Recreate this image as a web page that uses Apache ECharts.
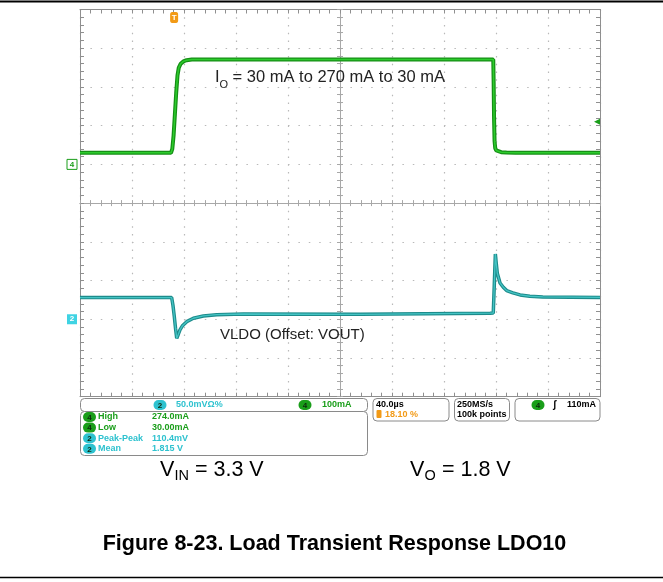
<!DOCTYPE html>
<html>
<head>
    <meta http-equiv="Content-Type" content="text/html; charset=utf-8" />
    <style type="text/css">
        body, html {width: 100%;height: 100%;margin:0;background:#fff;}
        #chart{width:663px;height:582px;}
    </style>
    <script src="https://cdn.jsdelivr.net/npm/echarts@6/dist/echarts.min.js"></script>
    <title>Load Transient Response LDO10</title>
</head>
<body>
<div id="chart"></div>
<script type="text/javascript">
    // time in us from left edge of screen (40 us/div, 10 div)
    var curTime = [0, 70.0, 71.0, 72.0, 73.0, 74.0, 75.0, 76.0, 77.5, 79.5, 82.0, 86.0, 150, 250, 317.9, 318.2, 318.5, 318.9, 319.4, 320.2, 321.5, 324, 328, 335, 350, 400];
    var curMa   = [30, 30, 40, 75, 130, 185, 230, 250, 260, 266, 269, 271, 271, 271, 271, 210, 120, 60, 42, 36, 33, 31.5, 30.5, 30, 30, 30];

    var vTime = [0, 70.5, 71.5, 72.5, 73.5, 74.4, 75.5, 76.9, 79, 82.1, 87.2, 94.9, 105.1, 125.6, 215.4, 315.4, 317.9, 318.7, 319.5, 320.2, 321, 323.1, 325.6, 328.2, 333, 338.5, 346, 356, 400];
    var vMv   = [28, 28, 18, 4, -12, -24.5, -20, -13.8, -8, -3.1, 1.3, 4.3, 5.9, 6.8, 6.4, 7.9, 8, 45, 84.3, 72, 59.4, 46.9, 41.4, 37.0, 34.1, 31.4, 29.7, 28.8, 28.2];

    var trigTime = 72.4;   // 18.10 % of screen
    var trigLevel = 110;   // mA

    var measLabels = ['High', 'Low', 'Peak-Peak', 'Mean'];
    var measValues = ['274.0mA', '30.00mA', '110.4mV', '1.815 V'];
    var measChan   = ['4', '4', '2', '2'];

    function zip(a, b) {
        var out = [];
        for (var i = 0; i < a.length; i++) out.push([a[i], b[i]]);
        return out;
    }

    var border = '#8f8f8f', dots = '#b9b9b9', centerCol = '#a8a8a8';
    var green = '#1a9e1a', cyan = '#2ec2cf', orange = '#f29a16';
    var sans = '"Liberation Sans", Arial, sans-serif';

    function edgeAxis(o) {
        var ax = {
            type: 'value', min: o.min, max: o.max, interval: o.interval, position: o.position,
            axisLine: {onZero: false, lineStyle: {color: border, width: 1}},
            axisTick: {show: true, inside: true, length: 4, lineStyle: {color: border}},
            minorTick: {show: true, splitNumber: 5, length: 4, lineStyle: {color: border}},
            axisLabel: {show: false},
            splitLine: {show: false}
        };
        if (o.dash) ax.splitLine = {show: true, lineStyle: {color: dots, width: 1.2, type: o.dash}};
        return ax;
    }
    function centerAxis(o) {
        return {
            type: 'value', min: o.min, max: o.max, interval: o.interval, position: o.position,
            axisLine: {onZero: true, onZeroAxisIndex: o.zeroIdx, lineStyle: {color: centerCol}},
            axisTick: {show: true, inside: false, length: 3, lineStyle: {color: centerCol}},
            minorTick: {show: true, splitNumber: 5, length: 3, lineStyle: {color: centerCol}},
            axisLabel: {show: false},
            splitLine: {show: false}
        };
    }

    // status bar helpers
    var g = [];
    function box(x, y, w, h) {
        g.push({type: 'rect', shape: {x: x, y: y, width: w, height: h, r: 4},
            style: {fill: '#fff', stroke: '#8a8a8a', lineWidth: 1}});
    }
    function txt(s, x, y, font, color, align) {
        g.push({type: 'text', style: {text: s, x: x, y: y, font: font, fill: color || '#000',
            textAlign: align || 'left', textVerticalAlign: 'middle'}, z: 10});
    }
    function badge(n, x, y, color) {
        g.push({type: 'rect', shape: {x: x - 6.5, y: y - 5, width: 13, height: 10, r: 5},
            style: {fill: color}, z: 10});
        txt(n, x, y + 0.5, 'bold 8px ' + sans, '#0d2a0d', 'center');
    }

    var scopeFont = 'bold 9px ' + sans;
    g.push({type: 'line', shape: {x1: 0, y1: 1.5, x2: 663, y2: 1.5}, style: {stroke: '#000', lineWidth: 2}});
    g.push({type: 'line', shape: {x1: 0, y1: 577.5, x2: 663, y2: 577.5}, style: {stroke: '#000', lineWidth: 1.5}});

    box(80.5, 398.5, 287, 13);
    badge('2', 160, 405, cyan);
    txt('50.0mVΩ%', 176, 405, scopeFont, cyan);
    badge('4', 305, 405, green);
    txt('100mA', 322, 405, scopeFont, green);

    box(80.5, 411.5, 287, 44);
    for (var i = 0; i < measLabels.length; i++) {
        var yy = 417 + i * 10.6;
        var c = measChan[i] === '4' ? green : cyan;
        badge(measChan[i], 89.5, yy, c);
        txt(measLabels[i], 98, yy, scopeFont, c);
        txt(measValues[i], 152, yy, scopeFont, c);
    }

    box(373, 398.5, 76, 22.5);
    txt('40.0µs', 376, 404.5, scopeFont, '#000');
    g.push({type: 'rect', shape: {x: 376.5, y: 410, width: 5, height: 8, r: 1}, style: {fill: orange}});
    txt('18.10 %', 385, 414.5, scopeFont, orange);

    box(454.5, 398.5, 55, 22.5);
    txt('250MS/s', 457, 404.5, scopeFont, '#000');
    txt('100k points', 457, 414.5, scopeFont, '#000');

    box(515, 398.5, 85, 22.5);
    badge('4', 538, 405, green);
    txt('ʃ', 553, 405, 'bold 10px ' + sans, '#000');
    txt('110mA', 567, 405, scopeFont, '#000');

    // annotations
    txt('I', 215, 77.5, '16.5px ' + sans, '#222');
    txt('O', 219.5, 84.5, '11px ' + sans, '#222');
    txt(' = 30 mA to 270 mA to 30 mA', 228, 77.5, '16.5px ' + sans, '#222');
    txt('VLDO (Offset: VOUT)', 220, 334.7, '15px ' + sans, '#222');

    txt('V', 160, 470, '21.5px ' + sans, '#000');
    txt('IN', 174.5, 476, '14.5px ' + sans, '#000');
    txt(' = 3.3 V', 189, 470, '21.5px ' + sans, '#000');
    txt('V', 410, 470, '21.5px ' + sans, '#000');
    txt('O', 424.5, 476, '14.5px ' + sans, '#000');
    txt(' = 1.8 V', 436, 470, '21.5px ' + sans, '#000');

    txt('Figure 8-23. Load Transient Response LDO10', 334.5, 544, 'bold 21.5px ' + sans, '#000', 'center');

    var chart = echarts.init(document.getElementById('chart'));
    var option = {
        animation: false,
        backgroundColor: '#fff',
        grid: {left: 80, top: 9.5, width: 520, height: 387.2},
        xAxis: [
            edgeAxis({min: 0, max: 400, interval: 40, position: 'bottom', dash: [1.5, 6.24]}),
            edgeAxis({min: 0, max: 400, interval: 40, position: 'top'}),
            centerAxis({min: 0, max: 400, interval: 40, position: 'bottom', zeroIdx: 2}),
            centerAxis({min: 0, max: 400, interval: 40, position: 'top', zeroIdx: 2}),
            {type: 'value', min: -200, max: 200, show: false}
        ],
        yAxis: [
            edgeAxis({min: -600, max: 400, interval: 100, position: 'left', dash: [1.5, 8.9]}),
            edgeAxis({min: -100, max: 400, interval: 50, position: 'right'}),
            {type: 'value', min: -5, max: 5, show: false},
            centerAxis({min: -5, max: 5, interval: 1, position: 'left', zeroIdx: 4}),
            centerAxis({min: -5, max: 5, interval: 1, position: 'right', zeroIdx: 4})
        ],
        series: [
            {
                name: 'IO', type: 'line', xAxisIndex: 0, yAxisIndex: 0, showSymbol: false, z: 5,
                data: zip(curTime, curMa),
                lineStyle: {color: '#168f16', width: 4},
                markPoint: {
                    symbol: 'rect', animation: false,
                    data: [
                        {coord: [0, 0], symbol: 'rect', symbolSize: [10, 10], symbolOffset: [-8, 0],
                            itemStyle: {color: '#fff', borderColor: green, borderWidth: 1},
                            label: {show: true, formatter: '4', color: green, fontSize: 8, fontWeight: 'bold'}},
                        {coord: [trigTime, 400], symbol: 'roundRect', symbolSize: [8, 11], symbolOffset: [0, 8],
                            itemStyle: {color: orange},
                            label: {show: true, formatter: 'T', color: '#fff', fontSize: 8, fontWeight: 'bold'}},
                        {coord: [400, trigLevel], symbol: 'triangle', symbolSize: [6, 6], symbolRotate: 90, symbolOffset: [-3, 0],
                            itemStyle: {color: green}, label: {show: false}}
                    ]
                }
            },
            {
                name: 'IO hi', type: 'line', xAxisIndex: 0, yAxisIndex: 0, showSymbol: false, z: 6,
                data: zip(curTime, curMa),
                lineStyle: {color: '#2ccc2c', width: 1.5}
            },
            {
                name: 'VLDO', type: 'line', xAxisIndex: 0, yAxisIndex: 1, showSymbol: false, z: 5,
                data: zip(vTime, vMv),
                lineStyle: {color: '#1d8b8b', width: 3.5},
                markPoint: {
                    data: [
                        {coord: [0, 0], symbol: 'rect', symbolSize: [10, 10], symbolOffset: [-8, 0],
                            itemStyle: {color: '#3fd3e3'},
                            label: {show: true, formatter: '2', color: '#fff', fontSize: 8, fontWeight: 'bold'}}
                    ]
                }
            },
            {
                name: 'VLDO hi', type: 'line', xAxisIndex: 0, yAxisIndex: 1, showSymbol: false, z: 6,
                data: zip(vTime, vMv),
                lineStyle: {color: '#44c4c4', width: 1.3}
            }
        ],
        graphic: {elements: g}
    };
    chart.setOption(option);
</script>
</body>
</html>
